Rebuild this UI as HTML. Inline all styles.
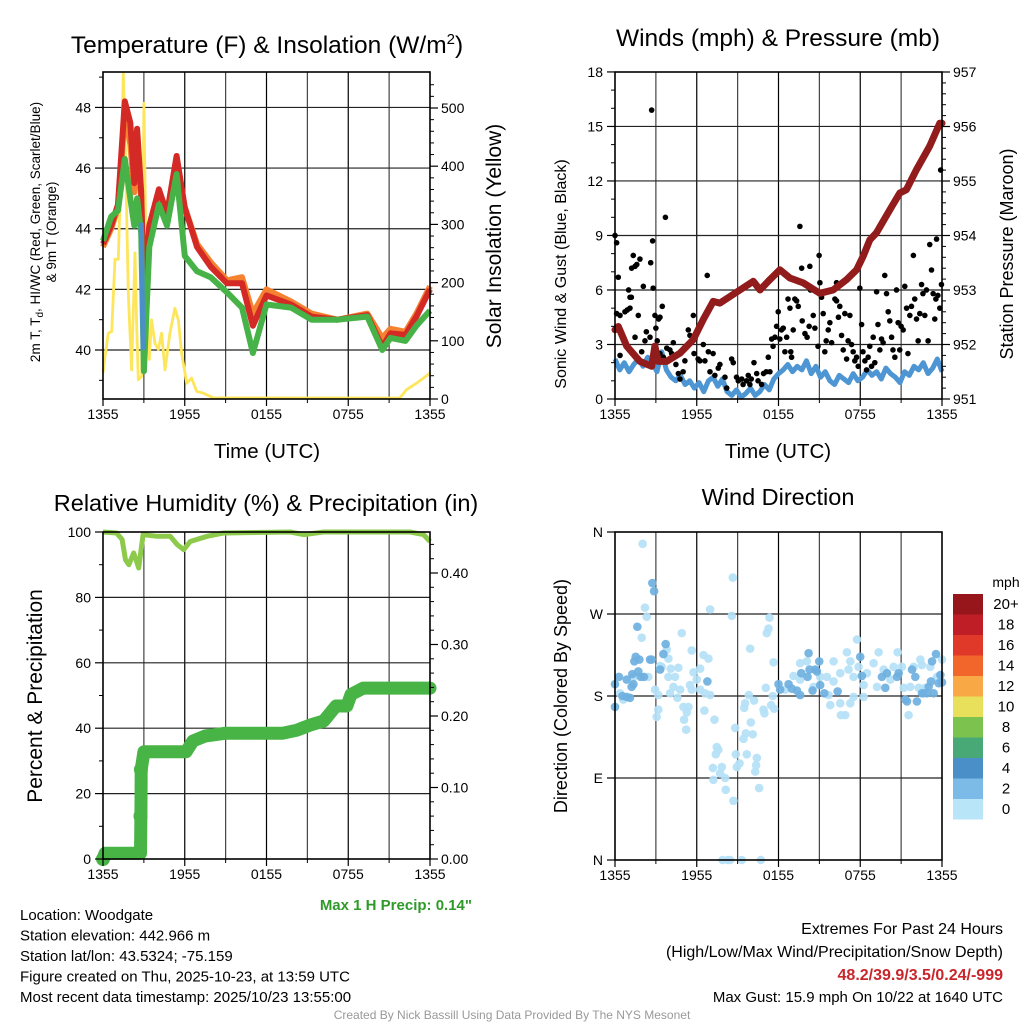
<!DOCTYPE html>
<html><head><meta charset="utf-8">
<style>
html,body{margin:0;padding:0;background:#fff;}
svg{display:block;font-family:"Liberation Sans",Arial,sans-serif;}
</style></head>
<body>
<svg id="c" width="1024" height="1024" viewBox="0 0 1024 1024" xmlns="http://www.w3.org/2000/svg">
<rect width="1024" height="1024" fill="#fff"/>
<g id="g1"></g>
<g id="g2"></g>
<g id="g3"></g>
<g id="g4"></g>
<g id="gtxt"></g>
</svg>
<script>
// ---------- DATA ----------
const xTickLabels = ["1355","1955","0155","0755","1355"];
// temperature panel
const tempHours = [0,0.6,1.1,1.6,2.0,2.3,2.5,2.8,3.0,3.4,4.1,4.7,5.4,6.0,6.9,7.9,9.1,10.2,11.0,12.0,13.8,15.3,17.2,19.4,20.5,21.1,22.2,23.0,24.0];
const tempRed = [43.5,44.1,44.8,48.2,47.5,45.5,47.3,45.2,41.9,44.1,45.3,44.5,46.4,44.7,43.4,42.75,42.2,42.2,40.8,41.8,41.5,41.1,41.0,41.15,40.1,40.55,40.5,41.1,42.0];
const tempOrange = [43.4,44.0,44.7,47.8,46.8,45.2,46.8,45.0,42.0,44.0,45.1,44.4,46.0,44.7,43.5,42.9,42.3,42.4,41.2,42.0,41.6,41.2,41.0,41.2,40.4,40.7,40.6,41.2,42.1];
const tempGreen = [43.6,44.4,44.6,46.3,45.0,44.1,45.0,43.85,39.3,43.4,44.8,44.1,45.8,43.1,42.6,42.4,41.9,41.4,39.9,41.5,41.4,41.0,41.0,41.1,40.0,40.4,40.3,40.8,41.3];
const chillHours = [2.8,2.85,2.9,2.95];
const chillTemp = [44.2,43.0,41.2,40.0];
const solarHours = [0,0.15,0.39,0.64,0.88,1.12,1.37,1.49,1.61,1.86,2.1,2.35,2.47,2.59,2.84,3.0,3.2,3.4,3.57,3.81,4.06,4.3,4.55,4.91,5.28,5.53,5.77,6.14,6.5,6.87,7.36,8.09,21.78,22.27,23.0,23.86,24];
const solarVals = [45,73,113,116,240,240,440,560,468,182,50,251,125,33,39,508,182,68,136,96,85,113,50,113,156,136,79,27,36,13,10,2,0,16,27,42,45];
const tempTicks = [40,42,44,46,48];
const solarTicks = [0,100,200,300,400,500];
// wind panel
const windVals = [2.2,1.6,2.0,1.5,1.9,2.2,1.8,2.3,2.0,1.5,2.6,1.6,1.2,1.0,1.3,0.8,1.0,0.6,0.9,0.4,1.0,1.2,0.7,1.1,0.4,0.2,0.5,0.1,0.3,0.6,0.2,0.4,0.8,0.5,1.1,1.4,1.6,1.9,1.5,1.8,1.6,2.1,1.4,1.8,1.2,1.5,1.0,0.8,1.3,1.1,0.9,1.4,1.0,1.2,1.6,1.3,1.5,1.1,1.7,1.4,1.2,0.9,1.5,1.3,1.8,1.6,2.0,1.4,1.7,2.2,1.5];
const gustHours = [0,0.12,0.24,0.12,0.37,0.49,0.37,0.6,0.73,0.9,1.0,1.1,1.2,1.1,1.34,1.22,1.47,1.6,1.83,1.71,1.47,1.96,2.08,2.2,2.3,2.57,2.69,2.62,2.76,2.8,2.93,3.0,3.2,3.3,3.1,3.47,3.7,3.3,3.55,3.8,4.03,4.28,4.16,4.47,4.65,4.77,5.0,5.13,5.38,5.5,5.75,5.87,5.8,6.1,6.23,6.48,6.77,6.6,6.85,6.97,7.2,7.33,7.58,7.7,8.07,8.2,8.56,8.68,8.92,9.05,9.3,9.4,9.66,9.78,9.9,10.0,10.2,10.4,10.5,10.76,10.9,11.1,11.25,11.37,11.5,11.6,11.74,11.86,11.98,12.1,12.22,12.35,12.47,12.6,12.7,12.84,12.9,12.96,13.08,13.2,13.33,13.45,13.57,13.7,13.74,13.94,14.1,14.25,14.3,14.35,14.55,14.67,14.9,14.98,15.04,15.16,15.28,15.4,15.5,15.65,15.77,15.9,16.14,16.26,16.26,16.4,16.5,16.63,16.75,16.87,17.0,17.11,17.24,17.36,17.48,17.6,17.73,17.85,17.97,18.1,18.2,18.34,18.46,18.58,18.7,18.83,18.95,19.07,19.2,19.3,19.44,19.56,19.68,19.8,19.93,20.05,20.17,20.3,20.4,20.54,20.66,20.78,20.9,21.0,21.15,21.27,21.4,21.5,21.64,21.76,21.9,22.0,22.13,22.25,22.37,22.5,22.6,22.74,22.86,22.98,23.1,23.23,23.35,23.47,23.55,23.6,23.7,23.84,23.9,23.96];
const gustVals = [9.0,8.6,6.7,4.7,4.6,3.6,2.4,3.4,4.8,4.9,6.0,5.6,5.6,5.0,7.9,7.2,7.3,7.4,7.7,4.6,3.4,2.6,6.2,3.2,3.7,3.4,15.9,7.5,8.7,6.1,4.6,3.9,4.4,4.5,3.2,5.1,10.0,2.5,2.3,2.8,2.7,3.1,2.5,1.9,1.4,1.1,1.5,2.1,3.8,3.5,4.6,3.3,2.5,2.2,2.1,3.0,6.8,2.1,2.6,1.5,2.5,1.3,1.7,1.9,1.2,0.6,2.2,2.0,1.2,1.0,1.1,0.8,1.0,1.3,0.8,1.1,2.0,1.4,1.0,0.8,1.4,1.5,2.3,1.5,3.3,2.9,3.4,4.0,4.8,3.3,3.8,3.9,2.6,3.4,5.5,5.0,2.6,2.3,3.8,5.5,5.4,5.1,9.5,7.2,4.3,3.6,3.4,4.0,7.3,6.0,4.6,3.9,2.9,7.9,6.4,5.6,4.7,2.6,3.2,3.8,4.2,3.1,5.5,5.4,6.4,4.5,5.1,3.5,2.7,4.7,2.2,3.2,4.6,3.0,2.6,2.1,2.3,1.8,6.1,4.1,2.6,2.1,1.6,2.3,2.9,1.8,3.4,2.0,5.9,4.1,2.7,3.3,3.1,6.8,5.8,4.8,4.3,3.4,2.7,2.3,6.0,4.2,2.7,4.0,3.8,6.2,5.0,2.5,4.6,5.1,7.9,5.5,4.4,3.2,4.7,6.3,5.8,4.6,6.0,3.2,8.5,7.1,5.8,4.4,5.5,8.8,5.7,5.0,12.6,6.3];
const pressHours = [0,0.24,0.86,1.83,2.69,2.93,3.18,3.79,4.77,5.75,6.48,7.21,7.7,8.44,9.17,10.15,10.64,11.37,12.1,12.84,13.81,15.04,16.01,17.0,17.73,18.22,18.7,19.19,20.17,20.9,21.39,22.13,23.1,23.84,24];
const pressVals = [952.27,952.33,951.97,951.69,951.6,951.97,951.69,951.69,951.84,952.09,952.46,952.79,952.76,952.88,953.0,953.16,953.0,953.19,953.37,953.22,953.13,952.94,953.0,953.19,953.37,953.62,953.92,954.05,954.47,954.78,954.84,955.21,955.64,956.06,956.06];
const windTicks = [0,3,6,9,12,15,18];
const pressTicks = [951,952,953,954,955,956,957];
// humidity / precip panel
const rhHours = [0,1.0,1.4,1.65,1.9,2.25,2.62,2.94,3.96,4.94,5.43,5.92,6.4,7.63,8.85,13.74,14.72,16.18,22.54,23.52,24];
const rhVals = [100,99.7,97.7,91.5,90,93.6,89,99.2,98.7,98.7,96.2,94.6,97.1,98.7,99.7,100,99.2,100,100,99.2,97.1];
const precipHours = [0,0.15,2.75,2.78,2.8,3.0,6.1,6.6,7.5,9.0,13.2,14.2,15.3,16.2,17.1,17.9,18.2,19.1,24];
const precipVals = [0,0.008,0.008,0.06,0.125,0.15,0.15,0.165,0.172,0.176,0.176,0.18,0.188,0.193,0.214,0.214,0.23,0.239,0.239];
const precipDotHours = [0,2.75,2.78];
const precipDotVals = [0,0.06,0.125];
const rhTicks = [0,20,40,60,80,100];
const precipTicks = ["0.00","0.10","0.20","0.30","0.40"];
// wind direction panel
const dirHours = [2.03,8.65,2.2,2.33,6.98,8.57,11.34,11.27,11.14,1.96,4.9,5.63,9.92,6.49,6.86,11.63,3.8,3.92,3.43,4.09,4.65,3.92,4.41,5.76,6.25,6.0,5.51,5.63,6.25,6.61,6.98,2.94,3.18,4.04,4.78,4.29,4.58,3.18,3.06,5.02,5.39,5.27,5.07,5.22,6.56,7.3,9.82,10.21,9.55,9.48,10.9,10.97,11.46,11.68,11.58,11.07,8.82,9.97,9.43,9.6,10.11,7.47,7.59,7.4,9.67,8.87,8.94,9.14,7.18,7.84,7.71,7.22,8.08,10.41,10.36,10.29,8.13,10.58,8.69,7.89,8.28,8.45,9.31,10.7,0.61,0.37,1.35,2.45,13.1,13.59,14.57,15.55,16.04,16.53,17.14,17.27,17.02,17.76,17.88,17.51,18.25,18.49,18.98,19.35,19.23,19.72,20.21,20.45,20.74,21.06,21.19,21.55,21.67,21.92,22.41,22.29,22.53,22.78,23.14,24,23.63,16.53,16.9,16.58,17.27,17.51,18.25,15.8,15.67,13.59,14.08,16.04,15.06,12.49,3.31,
0,0,0.29,0.86,1.27,1.35,1.22,0.54,1.1,0.86,1.52,1.42,1.64,1.79,1.71,1.89,2.13,2.74,2.87,2.57,2.69,3.31,3.55,3.72,6.78,12,12.12,12.74,12.98,13.35,13.59,13.67,14.21,14.13,14.28,14.7,14.82,14.99,14.5,15.06,15.36,16.34,18,18.12,19.59,19.84,19.96,20.7,20.82,21.31,21.43,21.8,22.04,22.16,22.53,22.65,22.9,23.19,23.27,23.39,23.02,23.56,23.76,23.88,24];
const dirDeg = [347,310,277,267,275,268,266,254,249,244,249,230,232,225,221,217,231,221,212,210,211,201,201,206,210,198,192,187,187,183,181,187,181,183,187,190,178,165,157,168,168,162,154,143,164,154,181,175,172,167,165,161,170,166,180,189,145,151,133,139,138,124,121,116,116,116,102,106,101,102,95,88,90,112,104,97,77,79,65,0,0,0,0,0,176,183,201,201,202,198,190,201,196,205,209,218,228,242,212,201,192,205,216,228,190,209,198,212,228,212,189,159,190,212,220,189,214,189,212,220,201,172,159,159,172,179,179,170,181,216,218,218,201,187,213,
168,193,201,198,204,193,190,180,178,179,223,218,256,220,207,201,201,304,295,220,220,209,226,237,196,193,187,193,188,186,181,205,227,201,209,209,207,218,186,192,183,185,223,202,201,189,205,201,205,176,174,209,201,174,183,183,183,196,218,183,190,226,194,203,195];
const dirSpeed = [1,1,1,1,1,1,1,1,1,1,1,1,1,1,1,1,1,1,1,1,1,1,1,1,1,1,1,1,1,1,1,1,1,1,1,1,1,1,1,1,1,1,1,1,1,1,1,1,1,1,1,1,1,1,1,1,1,1,1,1,1,1,1,1,1,1,1,1,1,1,1,1,1,1,1,1,1,1,1,1,1,1,1,1,1,1,1,1,1,1,1,1,1,1,1,1,1,1,1,1,1,1,1,1,1,1,1,1,1,1,1,1,1,1,1,1,1,1,1,1,1,1,1,1,1,1,1,1,1,1,1,1,1,1,1,
3,3,3,3,3,3,3,3,3,3,3,3,3,3,3,3,3,3,3,3,3,3,3,3,3,3,3,3,3,3,3,3,3,3,3,3,3,3,3,3,3,3,3,3,3,3,3,3,3,3,3,3,3,3,3,3,3,3,3,3,3,3,3,3,3];
const dirTickLabels = ["N","E","S","W","N"];
const cbarLabels = ["20+","18","16","14","12","10","8","6","4","2","0"];
const cbarColors = ["#96161c","#c01e26","#e0392a","#f2662b","#f8a845","#e8e05b","#7cc24f","#48a876","#4a8fc8","#7cbbe7","#b9e5f9"];

// ---------- DRAWING ----------
const NS="http://www.w3.org/2000/svg";
function el(tag,attrs,parent){const e=document.createElementNS(NS,tag);for(const k in attrs)e.setAttribute(k,attrs[k]);parent.appendChild(e);return e;}
function txt(s,attrs,parent){const e=el("text",attrs,parent);e.textContent=s;return e;}
function pathD(xs,ys){let d="";for(let i=0;i<xs.length;i++)d+=(i?"L":"M")+xs[i].toFixed(1)+","+ys[i].toFixed(1);return d;}

function frame(g,L,R,T,B,hLines){
  for(let h=3;h<24;h+=3){const x=L+h/24*(R-L);
    const gl=el("line",{x1:x,x2:x,y1:T,y2:B,stroke:(h%6?"#444":"#000"),"stroke-width":1.2},g);
    
    }
  hLines.forEach(y=>{const gl=el("line",{x1:L,x2:R,y1:y,y2:y,stroke:"#222","stroke-width":1.2},g);
    
    });
}
function border(g,L,R,T,B){
  const b=el("rect",{x:L,y:T,width:R-L,height:B-T,fill:"none",stroke:"#000","stroke-width":1.6},g);
  
  
}
function xAxis(g,L,R,B){
  for(let i=0;i<xTickLabels.length;i++){const x=L+i*6/24*(R-L);
    el("line",{x1:x,x2:x,y1:B,y2:B+7,stroke:"#000","stroke-width":1.2},g);
    const t=txt(xTickLabels[i],{x:x,y:B+20,"font-size":14,"text-anchor":"middle"},g);
    
    }
  for(let h=3;h<24;h+=6){const x=L+h/24*(R-L);el("line",{x1:x,x2:x,y1:B,y2:B+4,stroke:"#000"},g);}
}
function leftAxis(g,L,vals,yf,labels,minor){
  vals.forEach((v,i)=>{const y=yf(v);el("line",{x1:L-8,x2:L,y1:y,y2:y,stroke:"#000","stroke-width":1.2},g);
    const t=txt(labels?labels[i]:String(v),{x:L-12,y:y+5,"font-size":14,"text-anchor":"end"},g);
    
    });
  (minor||[]).forEach(v=>{const y=yf(v);el("line",{x1:L-4,x2:L,y1:y,y2:y,stroke:"#000"},g);});
}
function rightAxis(g,R,vals,yf,labels,minor){
  vals.forEach((v,i)=>{const y=yf(v);el("line",{x1:R,x2:R+8,y1:y,y2:y,stroke:"#000","stroke-width":1.2},g);
    const t=txt(labels?labels[i]:String(v),{x:R+11,y:y+5,"font-size":14,"text-anchor":"start"},g);
    
    });
  (minor||[]).forEach(v=>{const y=yf(v);el("line",{x1:R,x2:R+4,y1:y,y2:y,stroke:"#000"},g);});
}
function rot(s,x,y,size,g,name){const t=txt(s,{x:x,y:y,"font-size":size,"text-anchor":"middle",transform:"rotate(-90 "+x+" "+y+")"},g);
  
  return t;}

// Panel 1
(function(){
  const g=document.getElementById("g1");const L=103,R=430,T=72,B=399;
  const X=h=>L+h/24*(R-L), Y=t=>350-(t-40)*30.32, YS=v=>B-v*0.582;
  frame(g,L,R,T,B,tempTicks.map(Y));
  const sy=el("path",{d:pathD(solarHours.map(X),solarVals.map(v=>Math.min(YS(v),B-1))),fill:"none",stroke:"#fde55c","stroke-width":2.8,"stroke-linejoin":"round"},g);
  
  
  const o=el("path",{d:pathD(tempHours.map(X),tempOrange.map(Y)),fill:"none",stroke:"#f58231","stroke-width":6,"stroke-linejoin":"round"},g);
  
  
  const r=el("path",{d:pathD(tempHours.map(X),tempRed.map(Y)),fill:"none",stroke:"#d42a26","stroke-width":6,"stroke-linejoin":"round"},g);
  
  
  const gr=el("path",{d:pathD(tempHours.map(X),tempGreen.map(Y)),fill:"none",stroke:"#47b247","stroke-width":6,"stroke-linejoin":"round"},g);
  
  
  const bl=el("path",{d:pathD(chillHours.map(X),chillTemp.map(Y)),fill:"none",stroke:"#4a8fc8","stroke-width":5},g);
  
  
  border(g,L,R,T,B);
  xAxis(g,L,R,B);
  leftAxis(g,L,tempTicks,Y,null,[39,41,43,45,47,49]);
  rightAxis(g,R,solarTicks,YS,null,[20,40,60,80,120,140,160,180,220,240,260,280,320,340,360,380,420,440,460,480,520,540]);
  const ti=el("text",{x:267,y:53,"font-size":24.5,"text-anchor":"middle"},g);
  ti.innerHTML='Temperature (F) &amp; Insolation (W/m<tspan dy="-9" font-size="15">2</tspan><tspan dy="9">)</tspan>';
  
  
  const xt=txt("Time (UTC)",{x:267,y:458,"font-size":20.5,"text-anchor":"middle"},g);
  
  
  const y1=el("text",{x:40,y:232,"font-size":13.5,"text-anchor":"middle",transform:"rotate(-90 40 232)"},g);
  y1.innerHTML='2m T, T<tspan dy="3" font-size="10">d</tspan><tspan dy="-3">, HI/WC (Red, Green, Scarlet/Blue)</tspan>';
  
  
  rot("& 9m T (Orange)",56,232,13.5,g,'left-axis-title-line2');
  rot("Solar Insolation (Yellow)",501,236,21,g,'right-axis-title');
})();

// Panel 2
(function(){
  const g=document.getElementById("g2");const L=615,R=942,T=72,B=399;
  const X=h=>L+h/24*(R-L), Y=v=>B-v*18.17, YP=p=>B-(p-951)*54.5;
  frame(g,L,R,T,B,[3,6,9,12,15].map(Y));
  const wx=windVals.map((v,i)=>X(i*24/(windVals.length-1)));
  const w=el("path",{d:pathD(wx,windVals.map(Y)),fill:"none",stroke:"#4d96d3","stroke-width":5,"stroke-linejoin":"round"},g);
  
  
  for(let i=0;i<gustHours.length;i++){
    const c=el("circle",{cx:X(gustHours[i]),cy:Y(gustVals[i]),r:2.8,fill:"#000"},g);
    
    
  }
  const p=el("path",{d:pathD(pressHours.map(X),pressVals.map(YP)),fill:"none",stroke:"#921b1b","stroke-width":7,"stroke-linejoin":"round","stroke-linecap":"round"},g);
  
  
  border(g,L,R,T,B);
  xAxis(g,L,R,B);
  leftAxis(g,L,windTicks,Y,null,[1,2,4,5,7,8,10,11,13,14,16,17]);
  const pm=[];for(let v=951.2;v<957;v+=0.2){pm.push(v);}
  rightAxis(g,R,pressTicks,YP,null,pm);
  const ti=txt("Winds (mph) & Pressure (mb)",{x:778,y:46,"font-size":24.5,"text-anchor":"middle"},g);
  
  
  const xt=txt("Time (UTC)",{x:778,y:458,"font-size":20.5,"text-anchor":"middle"},g);
  
  
  rot("Sonic Wind & Gust (Blue, Black)",566,274,16,g,'left-axis-title');
  rot("Station Pressure (Maroon)",1013,254,18,g,'right-axis-title');
})();

// Panel 3
(function(){
  const g=document.getElementById("g3");const L=103,R=430,T=532,B=859;
  const X=h=>L+h/24*(R-L), Y=v=>B-v*3.27, YP=v=>B-v*715;
  frame(g,L,R,T,B,[20,40,60,80].map(Y));
  const rh=el("path",{d:pathD(rhHours.map(X),rhVals.map(Y)),fill:"none",stroke:"#8dca4c","stroke-width":5,"stroke-linejoin":"round"},g);
  
  
  const pr=el("path",{d:pathD(precipHours.map(X),precipVals.map(YP)),fill:"none",stroke:"#48b446","stroke-width":13,"stroke-linejoin":"round","stroke-linecap":"round"},g);
  
  
  for(let i=0;i<precipDotHours.length;i++){
    const c=el("circle",{cx:X(precipDotHours[i]),cy:YP(precipDotVals[i]),r:7,fill:"#48b446"},g);
    
    
  }
  border(g,L,R,T,B);
  xAxis(g,L,R,B);
  leftAxis(g,L,rhTicks,Y,null,[10,30,50,70,90]);
  rightAxis(g,R,[0,0.1,0.2,0.3,0.4],YP,precipTicks,[0.02,0.04,0.06,0.08,0.12,0.14,0.16,0.18,0.22,0.24,0.26,0.28,0.32,0.34,0.36,0.38,0.42,0.44]);
  const ti=txt("Relative Humidity (%) & Precipitation (in)",{x:266,y:511,"font-size":23.5,"text-anchor":"middle"},g);
  
  
  rot("Percent & Precipitation",42,696,21,g,'left-axis-title');
  const mp=txt("Max 1 H Precip: 0.14\"",{x:472,y:910,"font-size":15,"font-weight":"bold","text-anchor":"end",fill:"#2f9a2a"},g);
  
  
})();

// Panel 4
(function(){
  const g=document.getElementById("g4");const L=615,R=942,T=532,B=860;
  const X=h=>L+h/24*(R-L), Y=d=>B-d*(B-T)/360;
  frame(g,L,R,T,B,[90,180,270].map(Y));
  for(let i=0;i<dirHours.length;i++){
    const c=el("circle",{cx:X(dirHours[i]),cy:Y(dirDeg[i]),r:4.3,fill:(dirSpeed[i]>=2?"#6fb0e0":"#b5e1f7"),"fill-opacity":0.92},g);
    
    
  }
  border(g,L,R,T,B);
  xAxis(g,L,R,B);
  leftAxis(g,L,[0,90,180,270,360],Y,dirTickLabels,[]);
  const ti=txt("Wind Direction",{x:778,y:505,"font-size":23.5,"text-anchor":"middle"},g);
  
  
  rot("Direction (Colored By Speed)",567,696,18,g,'left-axis-title');
  const cb=el("g",{},g);
  
  
  const mph=txt("mph",{x:1006,y:587,"font-size":14,"text-anchor":"middle"},cb);
  
  
  for(let i=0;i<cbarLabels.length;i++){
    const y=594+i*20.5;
    const r=el("rect",{x:953,y:y,width:30,height:20.5,fill:cbarColors[i]},cb);
    
    
    const t=txt(cbarLabels[i],{x:1006,y:y+15,"font-size":15,"text-anchor":"middle"},cb);
    
    
  }
})();

// Footer text
(function(){
  const g=document.getElementById("gtxt");
  const left=["Location: Woodgate","Station elevation: 442.966 m","Station lat/lon: 43.5324; -75.159","Figure created on Thu, 2025-10-23, at 13:59 UTC","Most recent data timestamp: 2025/10/23 13:55:00"];
  left.forEach((s,i)=>{const t=txt(s,{x:20,y:920+i*20.5,"font-size":15},g);
    
    });
  const a=txt("Extremes For Past 24 Hours",{x:1003,y:934,"font-size":16,"text-anchor":"end"},g);
  
  
  const b=txt("(High/Low/Max Wind/Precipitation/Snow Depth)",{x:1003,y:957,"font-size":16,"text-anchor":"end"},g);
  
  
  const c=txt("48.2/39.9/3.5/0.24/-999",{x:1003,y:980,"font-size":16,"font-weight":"bold","text-anchor":"end",fill:"#c8262b"},g);
  
  
  const d=txt("Max Gust: 15.9 mph On 10/22 at 1640 UTC",{x:1003,y:1002,"font-size":15,"text-anchor":"end"},g);
  
  
  const e=txt("Created By Nick Bassill Using Data Provided By The NYS Mesonet",{x:512,y:1019,"font-size":12,"text-anchor":"middle",fill:"#999"},g);
  
  
})();
</script>
</body></html>
